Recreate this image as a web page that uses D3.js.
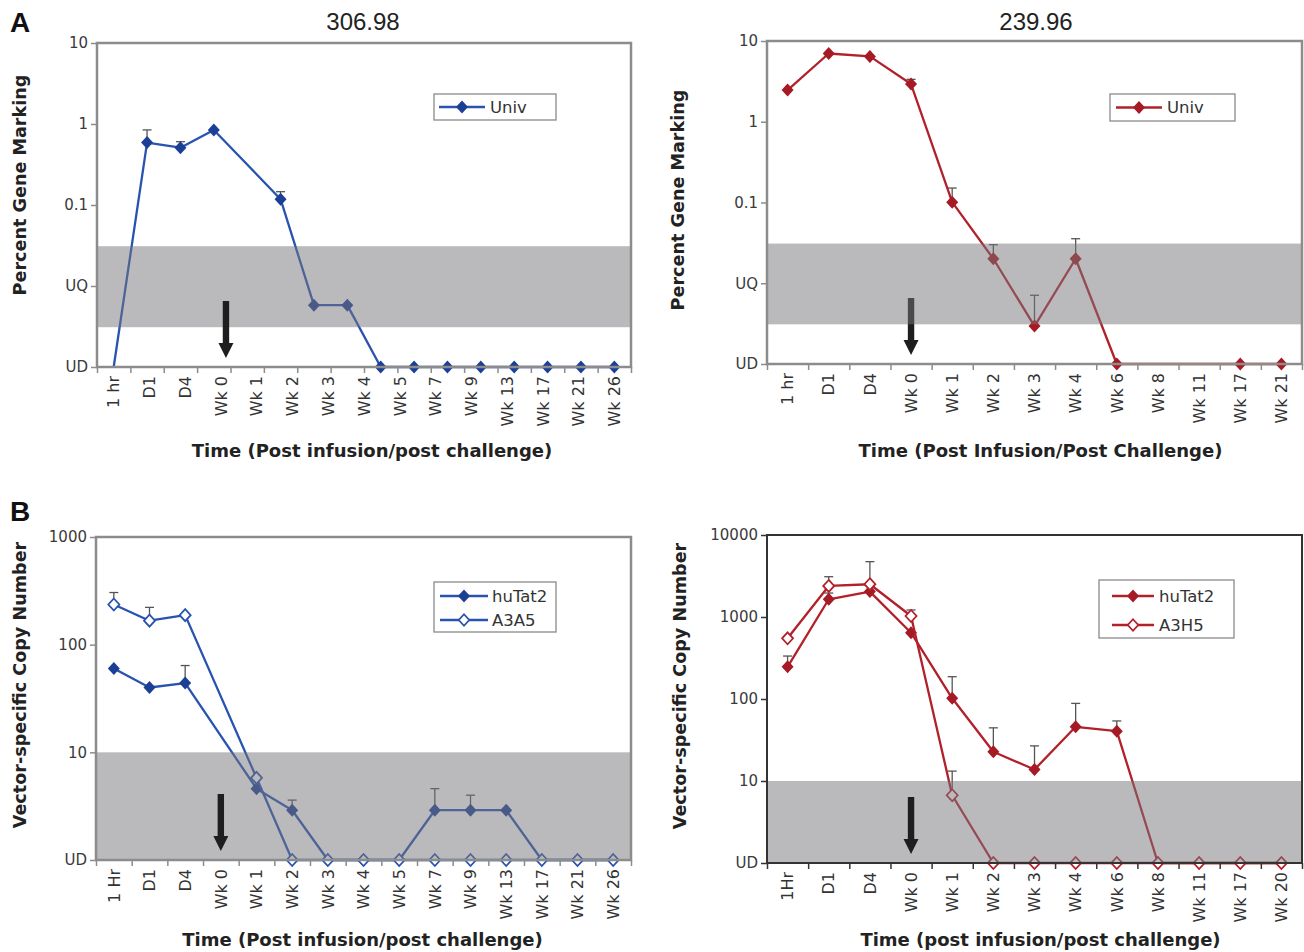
<!DOCTYPE html>
<html><head><meta charset="utf-8">
<script src="https://cdn.jsdelivr.net/npm/d3@7"></script>
<style>body{margin:0;background:#fff}svg{display:block}</style>
</head><body>
<svg id="c" width="1304" height="952"></svg>
<script>
// ---------------- DATA ----------------
// Panel A (left) – 16 sampling slots, 15 printed labels
const aLeftLabels = ["1 hr","D1","D4","Wk 0","Wk 1","Wk 2","Wk 3","Wk 4","Wk 5","Wk 7","Wk 9","Wk 13","Wk 17","Wk 21","Wk 26"];
const aLeftUniv    = [0.001, 0.59, 0.51, 0.845, null, 0.118, 0.0058, 0.0058, 0.001, 0.001, 0.001, 0.001, 0.001, 0.001, 0.001, 0.001];
const aLeftUnivErr = [null, 0.845, 0.605, null, null, 0.146, null, null, null, null, null, null, null, null, null, null];
const aLeftNoMarker = [0];
const aTitleLeft = "306.98";

// Panel A (right)
const aRightLabels = ["1 hr","D1","D4","Wk 0","Wk 1","Wk 2","Wk 3","Wk 4","Wk 6","Wk 8","Wk 11","Wk 17","Wk 21"];
const aRightUniv    = [2.47, 7.0, 6.45, 2.93, 0.101, 0.0201, 0.00295, 0.0201, 0.001, null, null, 0.001, 0.001];
const aRightUnivErr = [null, null, null, 3.35, 0.151, 0.030, 0.0071, 0.0356, null, null, null, null, null];
const aTitleRight = "239.96";

const aYTicks  = [10, 1, 0.1, 0.01, 0.001];
const aYLabels = ["10", "1", "0.1", "UQ", "UD"];
const aBand    = [0.0031, 0.031];

// Panel B (left)
const bLeftLabels = ["1 Hr","D1","D4","Wk 0","Wk 1","Wk 2","Wk 3","Wk 4","Wk 5","Wk 7","Wk 9","Wk 13","Wk 17","Wk 21","Wk 26"];
const bLeftHuTat2    = [60, 40, 44, null, 4.6, 2.9, 1, 1, 1, 2.9, 2.9, 2.9, 1, 1, 1];
const bLeftHuTat2Err = [null, null, 64, null, null, 3.6, null, null, null, 4.6, 4.0, null, null, null, null];
const bLeftA3A5      = [236, 167, 188, null, 5.8, 1, 1, 1, 1, 1, 1, 1, 1, 1, 1];
const bLeftA3A5Err   = [305, 222, null, null, null, null, null, null, null, null, null, null, null, null, null];
const bLeftYTicks  = [1000, 100, 10, 1];
const bLeftYLabels = ["1000", "100", "10", "UD"];

// Panel B (right)
const bRightLabels = ["1Hr","D1","D4","Wk 0","Wk 1","Wk 2","Wk 3","Wk 4","Wk 6","Wk 8","Wk 11","Wk 17","Wk 20"];
const bRightHuTat2    = [247, 1645, 2040, 643, 102, 22.7, 13.8, 45.8, 40.5, 1, 1, 1, 1];
const bRightHuTat2Err = [334, 1960, 4730, null, 187, 44.5, 26.8, 88.4, 54, null, null, null, null];
const bRightA3H5      = [550, 2390, 2510, 1028, 6.7, 1, 1, 1, 1, 1, 1, 1, 1];
const bRightA3H5Err   = [null, 3100, null, 1217, 13.2, null, null, null, null, null, null, null, null];
const bRightYTicks  = [10000, 1000, 100, 10, 1];
const bRightYLabels = ["10000", "1000", "100", "10", "UD"];
const bBand = [1, 10];

const arrowAt = "Wk 0";

// ---------------- DRAWING ----------------
const svg = d3.select("#c");
const BLUE = {line: "#2853b0", mark: "#1c3f96"};
const RED  = {line: "#b2202a", mark: "#a51a24"};
const TXT = "#333";
const FONT = "'DejaVu Sans', Verdana, sans-serif";

function diamond(cx, cy, w, h) {
  return `M${cx},${cy - h / 2}L${cx + w / 2},${cy}L${cx},${cy + h / 2}L${cx - w / 2},${cy}Z`;
}

function panel(cfg) {
  const g = svg.append("g");
  const n = cfg.series[0].values.length;
  const xb = d3.scaleBand().domain(d3.range(n)).range([cfg.x0, cfg.x1]);
  const xc = i => xb(i) + xb.bandwidth() / 2;
  const xl = d3.scalePoint().domain(cfg.labels).range([xc(0), xc(n - 1)]);
  const y = d3.scaleLog().domain(cfg.yDomain).range([cfg.y1, cfg.y0]);

  const arrowX = xl(arrowAt) + (cfg.arrowDx || 0);
  function drawArrow() {
    const top = cfg.y1 - 66, tip = cfg.y1 - 9, hh = 15, sw = 3.2, hw = 7.5;
    g.append("path")
      .attr("d", `M${arrowX - sw},${top}L${arrowX + sw},${top}L${arrowX + sw},${tip - hh}L${arrowX + hw},${tip - hh}L${arrowX},${tip}L${arrowX - hw},${tip - hh}L${arrowX - sw},${tip - hh}Z`)
      .attr("fill", "#1e1e1e");
  }
  if (cfg.arrowUnder) drawArrow();

  // error bars
  cfg.series.forEach(s => {
    s.values.forEach((v, i) => {
      const e = s.err[i];
      if (v == null || e == null) return;
      const xx = xc(i);
      g.append("line").attr("x1", xx).attr("x2", xx).attr("y1", y(v)).attr("y2", y(e))
        .attr("stroke", "#555").attr("stroke-width", 1.3);
      g.append("line").attr("x1", xx - 4.5).attr("x2", xx + 4.5).attr("y1", y(e)).attr("y2", y(e))
        .attr("stroke", "#555").attr("stroke-width", 1.3);
    });
  });

  // lines and markers
  cfg.series.forEach(s => {
    const pts = s.values.map((v, i) => ({v, i})).filter(d => d.v != null);
    const line = d3.line().x(d => xc(d.i)).y(d => y(d.v));
    g.append("path").attr("d", line(pts)).attr("fill", "none")
      .attr("stroke", s.color.line).attr("stroke-width", 2.3).attr("stroke-linejoin", "round");
    pts.filter(d => !(s.noMarker || []).includes(d.i)).forEach(d => {
      if (s.open) {
        g.append("path").attr("d", diamond(xc(d.i), y(d.v), 11, 12))
          .attr("fill", "#fff").attr("stroke", s.color.line).attr("stroke-width", 1.8);
      } else {
        g.append("path").attr("d", diamond(xc(d.i), y(d.v), 12, 13))
          .attr("fill", s.color.mark);
      }
    });
  });

  // shaded band (semi-transparent overlay)
  g.append("rect").attr("x", cfg.x0).attr("width", cfg.x1 - cfg.x0)
    .attr("y", y(cfg.band[1])).attr("height", y(cfg.band[0]) - y(cfg.band[1]))
    .attr("fill", "rgb(118,118,124)").attr("fill-opacity", 0.5);

  if (!cfg.arrowUnder) drawArrow();

  // border
  g.append("rect").attr("x", cfg.x0).attr("y", cfg.y0)
    .attr("width", cfg.x1 - cfg.x0).attr("height", cfg.y1 - cfg.y0)
    .attr("fill", "none").attr("stroke", cfg.border).attr("stroke-width", cfg.borderW);

  // y axis
  const ya = g.append("g").attr("transform", `translate(${cfg.x0},0)`)
    .call(d3.axisLeft(y).tickValues(cfg.yTicks).tickFormat((d, i) => cfg.yLabels[i]).tickSize(6).tickPadding(3));
  ya.select(".domain").remove();
  ya.selectAll("line").attr("stroke", cfg.border).attr("stroke-width", 1.5);
  ya.selectAll("text").attr("font-family", FONT).attr("font-size", 15).attr("fill", "#3a3a3a");

  // x ticks at slot boundaries
  const xt = d3.scaleLinear().domain([0, n]).range([cfg.x0, cfg.x1]);
  const xa = g.append("g").attr("transform", `translate(0,${cfg.y1})`)
    .call(d3.axisBottom(xt).tickValues(d3.range(n + 1)).tickSize(6).tickFormat(""));
  xa.select(".domain").remove();
  xa.selectAll("line").attr("stroke", cfg.border).attr("stroke-width", 1.5);

  // x labels (rotated)
  g.selectAll("text.xl").data(cfg.labels).join("text").attr("class", "xl")
    .attr("transform", d => `translate(${xl(d)},${cfg.y1 + 9}) rotate(-90)`)
    .attr("text-anchor", "end").attr("dy", "0.36em")
    .attr("font-family", FONT).attr("font-size", 16).attr("fill", TXT)
    .text(d => d);

  // axis titles
  g.append("text").attr("x", (cfg.x0 + cfg.x1) / 2 + (cfg.xtDx || 0)).attr("y", cfg.xtY)
    .attr("text-anchor", "middle").attr("font-family", FONT).attr("font-weight", "bold")
    .attr("font-size", 18).attr("fill", "#222").text(cfg.xTitle);
  g.append("text").attr("transform", `translate(${cfg.ytX},${cfg.ytY}) rotate(-90)`)
    .attr("text-anchor", "middle").attr("font-family", FONT).attr("font-weight", "bold")
    .attr("font-size", 17.6).attr("fill", "#222").text(cfg.yTitle);

  // legend
  const L = cfg.legend;
  g.append("rect").attr("x", L.x).attr("y", L.y).attr("width", L.w).attr("height", L.h)
    .attr("fill", "#fff").attr("stroke", "#8a8a8a").attr("stroke-width", 1.3);
  cfg.series.forEach((s, k) => {
    const ry = L.y + L.rowY0 + k * L.rowDy;
    g.append("line").attr("x1", L.x + L.lx0).attr("x2", L.x + L.lx1).attr("y1", ry).attr("y2", ry)
      .attr("stroke", s.color.line).attr("stroke-width", 2.3);
    const mx = L.x + (L.lx0 + L.lx1) / 2;
    if (s.open) g.append("path").attr("d", diamond(mx, ry, 10.5, 11.5)).attr("fill", "#fff")
      .attr("stroke", s.color.line).attr("stroke-width", 1.8);
    else g.append("path").attr("d", diamond(mx, ry, 12, 13)).attr("fill", s.color.mark);
    g.append("text").attr("x", L.x + L.tx).attr("y", ry).attr("dy", "0.36em")
      .attr("font-family", FONT).attr("font-size", 16.5).attr("fill", TXT).text(s.name);
  });

  if (cfg.title) {
    g.append("text").attr("x", cfg.titleX).attr("y", 30).attr("text-anchor", "middle")
      .attr("font-family", "'Liberation Sans', Arial, sans-serif").attr("font-size", 24)
      .attr("fill", "#222").text(cfg.title);
  }
}

// Panel A left
panel({
  x0: 97, x1: 631, y0: 43, y1: 367,
  labels: aLeftLabels, yDomain: [0.001, 10], yTicks: aYTicks, yLabels: aYLabels, band: aBand,
  series: [{name: "Univ", values: aLeftUniv, err: aLeftUnivErr, color: BLUE, noMarker: aLeftNoMarker}],
  border: "#8c8c8c", borderW: 2.5, arrowUnder: false, arrowDx: 5,
  xTitle: "Time (Post infusion/post challenge)", xtY: 457, xtDx: 8,
  yTitle: "Percent Gene Marking", ytX: 26, ytY: 185,
  legend: {x: 434, y: 94, w: 122, h: 26, rowY0: 13, rowDy: 0, lx0: 5, lx1: 51, tx: 56},
  title: aTitleLeft, titleX: 363
});

// Panel A right
panel({
  x0: 767, x1: 1302, y0: 41, y1: 364,
  labels: aRightLabels, yDomain: [0.001, 10], yTicks: aYTicks, yLabels: aYLabels, band: aBand,
  series: [{name: "Univ", values: aRightUniv, err: aRightUnivErr, color: RED}],
  border: "#8c8c8c", borderW: 2.5, arrowUnder: true,
  xTitle: "Time (Post Infusion/Post Challenge)", xtY: 457, xtDx: 6,
  yTitle: "Percent Gene Marking", ytX: 684, ytY: 200,
  legend: {x: 1110, y: 94, w: 125, h: 27, rowY0: 13.5, rowDy: 0, lx0: 6, lx1: 52, tx: 57},
  title: aTitleRight, titleX: 1036
});

// Panel B left
panel({
  x0: 96, x1: 631, y0: 537, y1: 860,
  labels: bLeftLabels, yDomain: [1, 1000], yTicks: bLeftYTicks, yLabels: bLeftYLabels, band: bBand,
  series: [
    {name: "huTat2", values: bLeftHuTat2, err: bLeftHuTat2Err, color: BLUE},
    {name: "A3A5", values: bLeftA3A5, err: bLeftA3A5Err, color: BLUE, open: true}
  ],
  border: "#8c8c8c", borderW: 2.5, arrowUnder: false,
  xTitle: "Time (Post infusion/post challenge)", xtY: 946, xtDx: -1,
  yTitle: "Vector-specific Copy Number", ytX: 26, ytY: 685,
  legend: {x: 434, y: 582, w: 122, h: 50, rowY0: 14, rowDy: 24, lx0: 6, lx1: 54, tx: 58}
});

// Panel B right
panel({
  x0: 767, x1: 1302, y0: 535, y1: 863,
  labels: bRightLabels, yDomain: [1, 10000], yTicks: bRightYTicks, yLabels: bRightYLabels, band: bBand,
  series: [
    {name: "huTat2", values: bRightHuTat2, err: bRightHuTat2Err, color: RED},
    {name: "A3H5", values: bRightA3H5, err: bRightA3H5Err, color: RED, open: true}
  ],
  border: "#333", borderW: 2, arrowUnder: false,
  xTitle: "Time (post infusion/post challenge)", xtY: 946, xtDx: 6,
  yTitle: "Vector-specific Copy Number", ytX: 686, ytY: 686,
  legend: {x: 1099, y: 580, w: 135, h: 58, rowY0: 16, rowDy: 29, lx0: 13, lx1: 55, tx: 60}
});

// panel letters
svg.append("text").attr("x", 10).attr("y", 32).attr("font-family", "'Liberation Sans', Arial, sans-serif")
  .attr("font-weight", "bold").attr("font-size", 28).attr("fill", "#111").text("A");
svg.append("text").attr("x", 10).attr("y", 521).attr("font-family", "'Liberation Sans', Arial, sans-serif")
  .attr("font-weight", "bold").attr("font-size", 28).attr("fill", "#111").text("B");
</script>
</body></html>
